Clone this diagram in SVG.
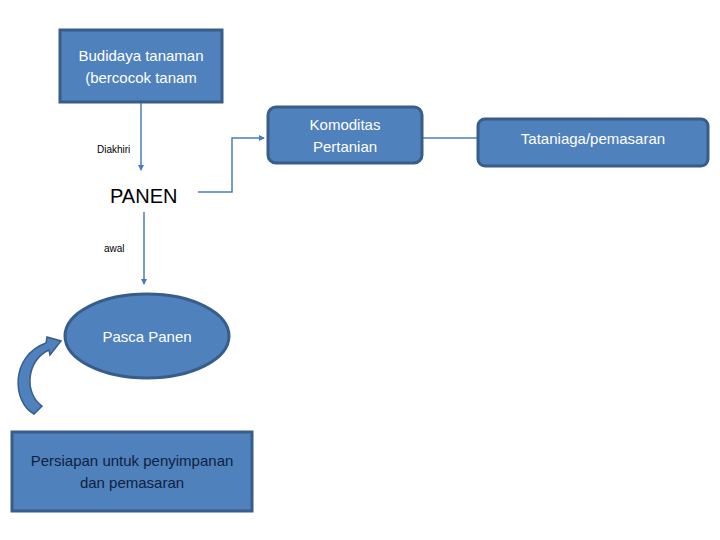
<svg xmlns="http://www.w3.org/2000/svg" width="720" height="540" viewBox="0 0 720 540">
<style>
.box{fill:#4F81BD;stroke:#385D8A;stroke-width:3}
.wt{font-family:"Liberation Sans",Arial,sans-serif;font-size:15px;fill:#ffffff;text-anchor:middle}
.dk{font-family:"Liberation Sans",Arial,sans-serif;font-size:15px;fill:#0F1F3D;text-anchor:middle}
.lbl{font-family:"Liberation Sans",Arial,sans-serif;font-size:10px;fill:#000000}
.con{fill:none;stroke:#4A7EBB;stroke-width:1.5}
</style>
<defs>
<marker id="ah" viewBox="0 0 6 6" refX="5" refY="3" markerWidth="4" markerHeight="4" orient="auto" markerUnits="strokeWidth">
<path d="M0,0 L6,3 L0,6 Z" fill="#4A7EBB"/>
</marker>
</defs>
<rect width="720" height="540" fill="#ffffff"/>
<g id="connectors">
<path class="con" d="M141,102 L141,170" marker-end="url(#ah)"/>
<path class="con" d="M198,192 L232,192 L232,138 L264,138" marker-end="url(#ah)"/>
<path class="con" d="M422,138 L478,138"/>
<path class="con" d="M144,212 L144,284" marker-end="url(#ah)"/>
<path d="M34,414 C12,402 10,356 46,343 L47,337 L61,341 L50,355 L49,350 C26,360 24,394 42,406 Z" fill="#4F81BD" stroke="#385D8A" stroke-width="1.5"/>
</g>
<g id="budidaya">
<rect class="box" x="60" y="30" width="162" height="72"/>
<text class="wt" x="141" y="61">Budidaya tanaman</text>
<text class="wt" x="141" y="83">(bercocok tanam</text>
</g>
<g id="diakhiri"><text class="lbl" x="97" y="153">Diakhiri</text></g>
<g id="panen"><text x="110" y="203" font-family="Liberation Sans,Arial,sans-serif" font-size="20" fill="#000000">PANEN</text></g>
<g id="awal"><text class="lbl" x="104" y="252" font-size="9">awal</text></g>
<g id="komoditas">
<rect class="box" x="268" y="107" width="154" height="56" rx="8"/>
<text class="wt" x="345" y="130">Komoditas</text>
<text class="wt" x="345" y="152">Pertanian</text>
</g>
<g id="tataniaga">
<rect class="box" x="478" y="119" width="230" height="47" rx="7"/>
<text class="wt" x="593" y="144">Tataniaga/pemasaran</text>
</g>
<g id="pasca">
<ellipse class="box" cx="147" cy="336" rx="82" ry="42"/>
<text class="wt" x="147" y="342">Pasca Panen</text>
</g>
<g id="persiapan">
<rect class="box" x="12" y="432" width="240" height="79"/>
<text class="dk" x="132" y="466">Persiapan untuk penyimpanan</text>
<text class="dk" x="132" y="488">dan pemasaran</text>
</g>
</svg>
